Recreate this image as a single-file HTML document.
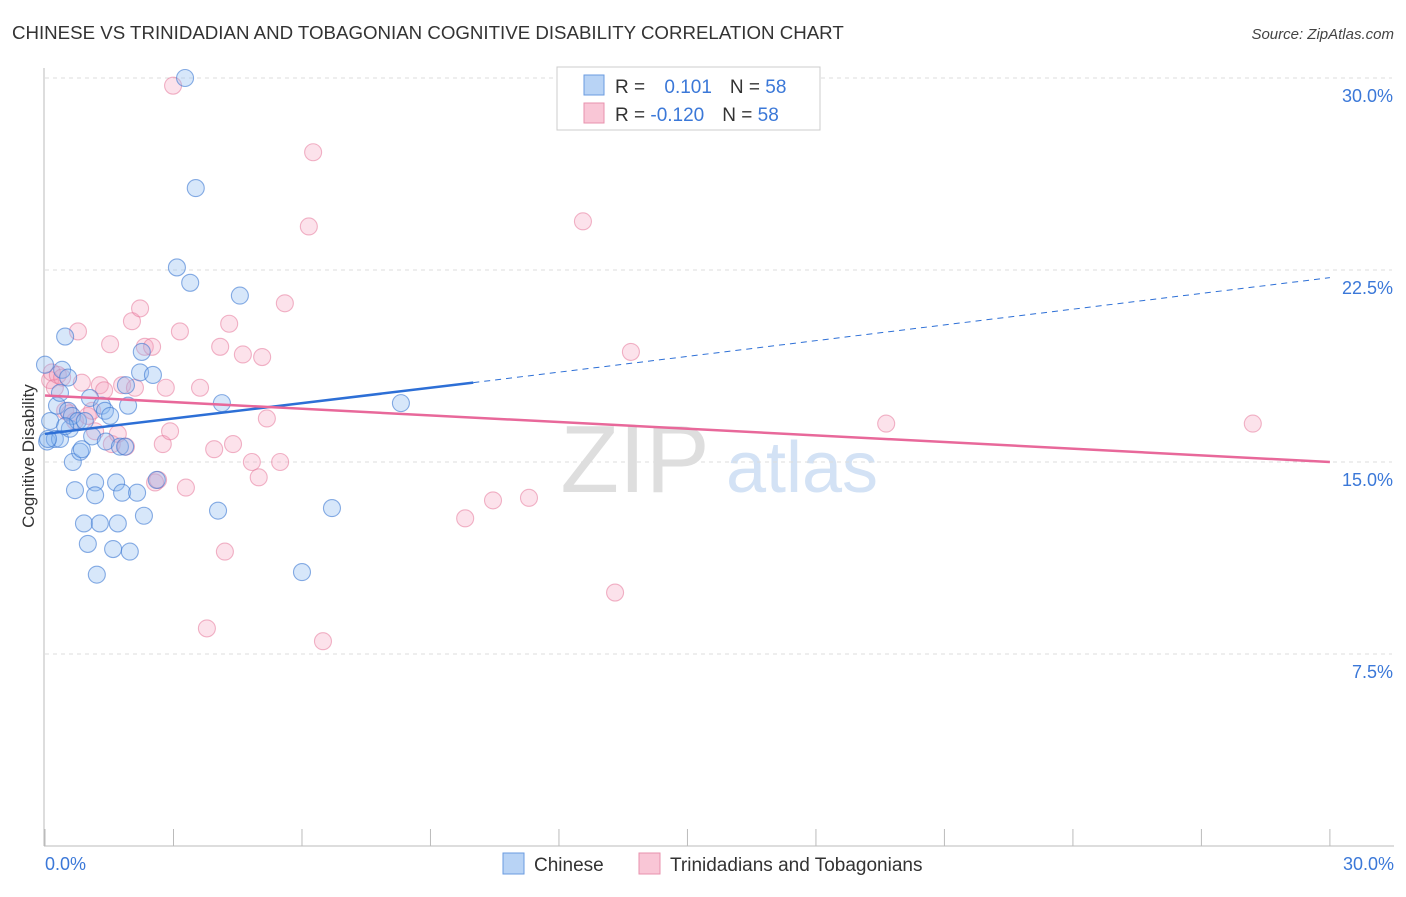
<!DOCTYPE html>
<html><head><meta charset="utf-8"><style>
body{margin:0;background:#fff;font-family:"Liberation Sans",sans-serif;}
svg text{font-family:"Liberation Sans",sans-serif;}
</style></head><body>
<svg id="chart" width="1406" height="892" viewBox="0 0 1406 892">
<text x="12" y="39" font-size="18.7" fill="#333">CHINESE VS TRINIDADIAN AND TOBAGONIAN COGNITIVE DISABILITY CORRELATION CHART</text>
<text x="1394" y="39" font-size="15" fill="#444" font-style="italic" text-anchor="end">Source: ZipAtlas.com</text>
<text x="34" y="456" font-size="17" fill="#333" text-anchor="middle" transform="rotate(-90 34 456)">Cognitive Disability</text>
<text x="635" y="492" font-size="96" fill="#dedede" font-family="Liberation Serif" text-anchor="middle">ZIP</text>
<text x="802" y="492" font-size="72" fill="#d3e2f5" text-anchor="middle">atlas</text>
<g id="grid"></g><g id="axes"></g><g id="pts"></g><g id="trends"></g>
<g>
<rect x="557" y="67" width="263" height="63" fill="#fff" stroke="#ccc"/>
<rect x="584" y="75" width="20" height="20" fill="#b8d3f5" stroke="#6a9be0"/>
<rect x="584" y="103" width="20" height="20" fill="#f9c6d6" stroke="#e892ad"/>
<text x="615" y="93" font-size="19" fill="#333">R = <tspan fill="#3b78d8" dx="14">0.101</tspan><tspan fill="#333" dx="18">N = </tspan><tspan fill="#3b78d8">58</tspan></text>
<text x="615" y="121" font-size="19" fill="#333">R = <tspan fill="#3b78d8">-0.120</tspan><tspan fill="#333" dx="18">N = </tspan><tspan fill="#3b78d8">58</tspan></text>
</g>
<g>
<rect x="503" y="853" width="21" height="21" fill="#b8d3f5" stroke="#6a9be0"/>
<text x="534" y="871" font-size="19" fill="#333">Chinese</text>
<rect x="639" y="853" width="21" height="21" fill="#f9c6d6" stroke="#e892ad"/>
<text x="670" y="871" font-size="19" fill="#333">Trinidadians and Tobagonians</text>
</g>
</svg>
<script>
const yTicks=[7.5,15,22.5,30];
const yTickLabels=["7.5%","15.0%","22.5%","30.0%"];
const xLabels=["0.0%","30.0%"];
const chineseX=[0,0.05,0.12,0.23,0.28,0.35,0.4,0.47,0.54,0.54,0.58,0.63,0.65,0.7,0.77,0.82,0.86,0.91,1.0,1.05,1.1,1.17,1.17,1.21,1.28,1.33,1.4,1.42,1.59,1.66,1.7,1.75,1.8,1.89,1.94,1.98,2.15,2.22,2.26,2.31,2.52,2.61,3.08,3.27,3.39,3.52,4.13,4.04,4.55,6.0,6.7,8.31,0.35,0.07,0.93,1.52,1.87,0.47];
const chineseY=[18.8,15.8,16.6,15.9,17.2,15.9,18.6,19.9,18.3,17.0,16.3,16.8,15.0,13.9,16.6,15.4,15.5,12.6,11.8,17.5,16.0,14.2,13.7,10.6,12.6,17.2,17.0,15.8,11.6,14.2,12.6,15.6,13.8,18.0,17.2,11.5,13.8,18.5,19.3,12.9,18.4,14.3,22.6,30.0,22.0,25.7,17.3,13.1,21.5,10.7,13.2,17.3,17.7,15.9,16.6,16.8,15.6,16.4];
const trinX=[0.12,0.16,0.23,0.30,0.40,0.47,0.58,0.70,0.77,0.86,1.0,1.10,1.17,1.28,1.38,1.52,1.56,1.7,1.8,1.89,2.03,2.1,2.22,2.33,2.5,2.57,2.64,2.75,2.82,2.92,2.99,3.15,3.29,3.62,3.78,3.95,4.09,4.2,4.3,4.39,4.62,4.83,4.99,5.07,5.18,5.49,5.6,6.16,6.26,6.49,9.81,10.46,11.3,12.56,13.31,13.68,19.64,28.2];
const trinY=[18.2,18.5,17.9,18.4,18.3,17.0,16.9,16.6,20.1,18.1,16.8,17.0,16.2,18.0,17.8,19.6,15.7,16.1,18.0,15.6,20.5,17.9,21.0,19.5,19.5,14.2,14.3,15.7,17.9,16.2,29.7,20.1,14.0,17.9,8.5,15.5,19.5,11.5,20.4,15.7,19.2,15.0,14.4,19.1,16.7,15.0,21.2,24.2,27.1,8.0,12.8,13.5,13.6,24.4,9.9,19.3,16.5,16.5];
const blueTrend=[[0,16.1],[10,18.1],[30,22.2]];
const pinkTrend=[[0,17.6],[30,15.0]];
const X=v=>45+v*42.83, Y=v=>846-v*25.6;
const NS="http://www.w3.org/2000/svg";
function mk(tag,attrs,parent){const e=document.createElementNS(NS,tag);for(const k in attrs)e.setAttribute(k,attrs[k]);document.getElementById(parent).appendChild(e);return e;}
yTicks.forEach((t,i)=>{
 const l=mk('line',{x1:45,x2:1392,y1:Y(t),y2:Y(t),stroke:'#ddd','stroke-dasharray':'4,4'},'grid');
 
 
 const tx=mk('text',{x:1393,y:Y(t)+24,'font-size':18,fill:'#3b78d8','text-anchor':'end'},'grid');
 tx.textContent=yTickLabels[i];
 
 
});
const ax=mk('line',{x1:44,x2:44,y1:68,y2:846,stroke:'#bbb'},'axes');


const bx=mk('line',{x1:44,x2:1394,y1:846,y2:846,stroke:'#bbb'},'axes');


for(let i=0;i<=10;i++){
 const t=mk('line',{x1:X(i*3),x2:X(i*3),y1:829,y2:846,stroke:'#bbb'},'axes');
 
 
}
[[0,'start',45],[1,'end',1394]].forEach(([i,a,x])=>{
 const t=mk('text',{x:x,y:870,'font-size':18,fill:'#3b78d8','text-anchor':a},'axes');
 t.textContent=xLabels[i];
 
 
});
trinX.forEach((v,i)=>{
 const c=mk('circle',{cx:X(v),cy:Y(trinY[i]),r:8.5,fill:'rgba(244,160,188,0.3)',stroke:'rgba(230,120,155,0.55)','stroke-width':1.1},'pts');
 
 
});
chineseX.forEach((v,i)=>{
 const c=mk('circle',{cx:X(v),cy:Y(chineseY[i]),r:8.5,fill:'rgba(140,185,240,0.35)',stroke:'rgba(60,120,210,0.6)','stroke-width':1.1},'pts');
 
 
});
const b1=mk('line',{x1:X(blueTrend[0][0]),y1:Y(blueTrend[0][1]),x2:X(blueTrend[1][0]),y2:Y(blueTrend[1][1]),stroke:'#2d6fd6','stroke-width':2.5},'trends');


const b2=mk('line',{x1:X(blueTrend[1][0]),y1:Y(blueTrend[1][1]),x2:X(blueTrend[2][0]),y2:Y(blueTrend[2][1]),stroke:'#2d6fd6','stroke-width':1,'stroke-dasharray':'6,5'},'trends');


const p1=mk('line',{x1:X(pinkTrend[0][0]),y1:Y(pinkTrend[0][1]),x2:X(pinkTrend[1][0]),y2:Y(pinkTrend[1][1]),stroke:'#e8689a','stroke-width':2.5},'trends');


</script>
</body></html>
